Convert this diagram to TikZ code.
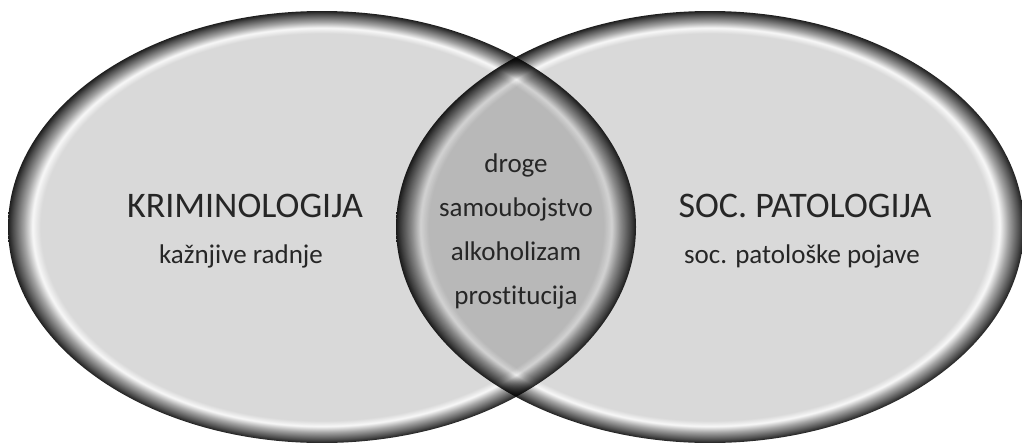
\documentclass[tikz,border=0pt]{standalone}
\usepackage{fontspec}
\setmainfont{Carlito}[Ligatures={NoCommon}]
\usetikzlibrary{shapes.geometric}
\definecolor{vfill}{gray}{0.85}
\definecolor{vhl}{gray}{0.97}
\definecolor{vmid}{gray}{0.64}
\definecolor{vdark}{gray}{0.30}
\definecolor{vedge}{gray}{0.12}
\definecolor{vtext}{gray}{0.15}
\pgfdeclareradialshading{vennring}{\pgfpoint{0bp}{0bp}}{color(0bp)=(vfill); color(22.4bp)=(vfill); color(23.05bp)=(vhl); color(23.75bp)=(vmid); color(24.6bp)=(vdark); color(25bp)=(vedge); color(50bp)=(vedge)}
\tikzset{
  vennset/.style={ellipse, inner sep=0pt, minimum width=628pt, minimum height=432pt, shading=vennring, blend mode=multiply},
  title/.style={anchor=base, text=vtext, font=\fontsize{36}{40}\selectfont},
  sub/.style={anchor=base, text=vtext, font=\fontsize{27}{32}\selectfont},
}
\begin{document}
\begin{tikzpicture}[x=1pt, y=-1pt]
\useasboundingbox (0,0) rectangle (1022,442);
\fill[white] (0,0) rectangle (1022,442);
\node[vennset] (left) at (322,227) {};
\node[vennset] (right) at (710,227) {};
\node[title] (krim) at (245,217) {KRIMINOLOGIJA};
\node[sub] (kaz) at (241,263) {kažnjive radnje};
\node[title] (soc) at (805,217) {SOC. PATOLOGIJA};
\node[sub] (socp) at (802,263) {soc. patološke pojave};
\node[sub] (d1) at (516,172) {droge};
\node[sub] (d2) at (516,216.5) {samoubojstvo};
\node[sub] (d3) at (516,260.5) {alkoholizam};
\node[sub] (d4) at (516,304.5) {prostitucija};
\end{tikzpicture}
\end{document}
